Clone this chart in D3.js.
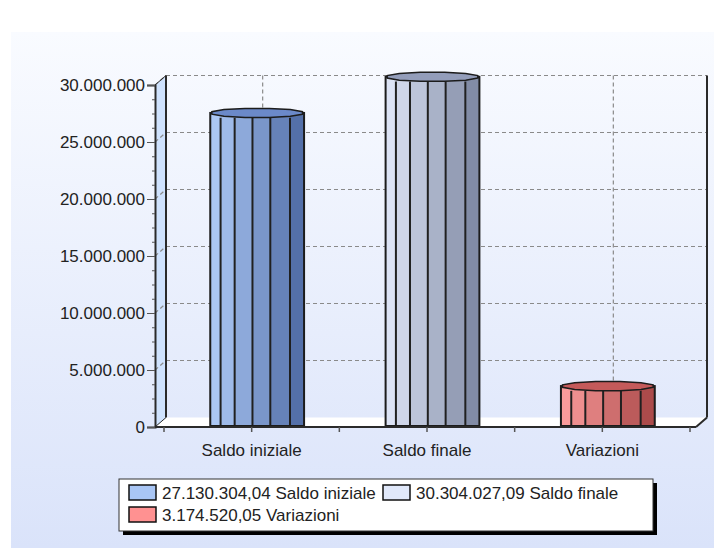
<!DOCTYPE html>
<html>
<head>
<meta charset="utf-8">
<script src="https://cdn.jsdelivr.net/npm/d3@7"></script>
<style>
  html, body { margin: 0; padding: 0; background: #ffffff; }
  svg { display: block; }
  text { font-family: "Liberation Sans", Arial, sans-serif; }
</style>
</head>
<body>
<svg id="chart" width="714" height="548"></svg>
<script>
// Data
const categories = ["Saldo iniziale", "Saldo finale", "Variazioni"];
const values = [27130304.04, 30304027.09, 3174520.05];
const yTicks = [0, 5000000, 10000000, 15000000, 20000000, 25000000, 30000000];
const yMax = 30000000;

// Styles
const palette = [
  { light: "#b0ccf9", dark: "#4d68a2", cap: "#6b89c9", swatch: "#a9c6f5" },
  { light: "#e2e9fa", dark: "#7a849f", cap: "#939dba", swatch: "#e0e8fa" },
  { light: "#ffa0a0", dark: "#a54444", cap: "#c45a5a", swatch: "#ff9191" }
];
const facetStops = [0, 0.11, 0.26, 0.45, 0.64, 0.85, 1];
const depth = { dx: 11, dy: -9.5 };
const fontSize = 17;

const it = d3.formatLocale({ decimal: ",", thousands: ".", grouping: [3], currency: ["€", ""] });
const fmtAxis = it.format(",.0f");
const fmtValue = it.format(",.2f");

const svg = d3.select("#chart");
const defs = svg.append("defs");

// Background panel
const bg = defs.append("linearGradient").attr("id", "bg").attr("x1", 0).attr("y1", 0).attr("x2", 0).attr("y2", 1);
bg.append("stop").attr("offset", "0%").attr("stop-color", "#f9fbff");
bg.append("stop").attr("offset", "100%").attr("stop-color", "#dae3fa");
svg.append("rect").attr("x", 0).attr("y", 0).attr("width", 714).attr("height", 548).attr("fill", "#ffffff");
svg.append("rect").attr("x", 11).attr("y", 32).attr("width", 703).attr("height", 516).attr("fill", "url(#bg)");

// Scales
const y = d3.scaleLinear().domain([0, yMax]).range([427, 85]);
const x = d3.scaleBand().domain(categories).range([164, 690]);
const left = 155, right = 696;
const y0 = y(0), yTop = y(yMax);
const { dx, dy } = depth;

// Walls and floor
svg.append("polygon")
  .attr("points", [[left, y0], [left, yTop], [left + dx, yTop + dy], [left + dx, y0 + dy]].join(" "))
  .attr("fill", "#cfe2fd");
svg.append("polygon")
  .attr("points", [[left, y0], [left + dx, y0 + dy], [right + dx, y0 + dy], [right, y0]].join(" "))
  .attr("fill", "#ffffff");

// Grid on the back wall and the left wall
const grid = svg.append("g").attr("stroke", "#8a8a8a").attr("stroke-width", 1.2).attr("stroke-dasharray", "4,3").attr("fill", "none");
grid.selectAll("line.h").data(yTicks.filter(d => d > 0)).join("line")
  .attr("x1", left + dx).attr("x2", right + dx)
  .attr("y1", d => y(d) + dy).attr("y2", d => y(d) + dy);
grid.selectAll("line.d").data(yTicks.filter(d => d > 0)).join("line")
  .attr("x1", left).attr("x2", left + dx)
  .attr("y1", d => y(d)).attr("y2", d => y(d) + dy);
grid.selectAll("line.v").data(categories).join("line")
  .attr("x1", d => x(d) + x.bandwidth() / 2 + dx).attr("x2", d => x(d) + x.bandwidth() / 2 + dx)
  .attr("y1", yTop + dy).attr("y2", y0 + dy);

// Frame lines
const frame = svg.append("g").attr("stroke", "#2a2a2a").attr("stroke-width", 2).attr("fill", "none");
frame.append("line").attr("x1", left + dx).attr("x2", left + dx).attr("y1", yTop + dy).attr("y2", y0 + dy);
frame.append("line").attr("x1", right + dx).attr("x2", right + dx).attr("y1", yTop + dy).attr("y2", y0 + dy);
frame.append("line").attr("x1", right + dx).attr("x2", right).attr("y1", y0 + dy).attr("y2", y0);
frame.append("line").attr("x1", left).attr("x2", left + dx).attr("y1", yTop).attr("y2", yTop + dy).attr("stroke-width", 1);
frame.append("line").attr("x1", left).attr("x2", left + dx).attr("y1", y0).attr("y2", y0 + dy).attr("stroke-width", 1);

// Cylinders
const barW = x.bandwidth() * 0.535;
const capH = 4.75;
const bars = svg.append("g").selectAll("g.bar").data(categories.map((c, i) => ({ c, v: values[i], p: palette[i] }))).join("g");

bars.each(function (d) {
  const g = d3.select(this);
  const x0 = x(d.c) + x.bandwidth() / 2 + dx / 2 - barW / 2;
  const top = y(d.v);
  const shade = d3.interpolateRgb(d.p.light, d.p.dark);
  for (let j = 0; j < facetStops.length - 1; j++) {
    const a = facetStops[j], b = facetStops[j + 1];
    g.append("rect")
      .attr("x", x0 + a * barW).attr("y", top - capH)
      .attr("width", (b - a) * barW + 0.5).attr("height", y0 - top + capH - 1)
      .attr("fill", shade((a + b) / 2));
  }
  g.selectAll("line.f").data(facetStops.slice(1, -1)).join("line")
    .attr("x1", t => x0 + t * barW).attr("x2", t => x0 + t * barW)
    .attr("y1", top).attr("y2", y0 - 1)
    .attr("stroke", "#202020").attr("stroke-width", 2);
  g.append("rect")
    .attr("x", x0).attr("y", top - capH).attr("width", barW).attr("height", y0 - top + capH - 1)
    .attr("fill", "none").attr("stroke", "#1c1c1c").attr("stroke-width", 2);
  // top cap
  const cx = x0 + barW / 2, cy = top - capH;
  const pts = d3.range(12).map(k => {
    const ang = (k + 0.5) * Math.PI * 2 / 12;
    return [cx + Math.cos(ang) * barW / 2, cy + Math.sin(ang) * capH];
  });
  g.append("polygon").attr("points", pts.join(" "))
    .attr("fill", d.p.cap).attr("stroke", "#1c1c1c").attr("stroke-width", 1.5);
});

// Front floor edge
svg.append("line").attr("x1", left).attr("x2", right).attr("y1", y0).attr("y2", y0)
  .attr("stroke", "#2a2a2a").attr("stroke-width", 2);

// Y axis
const yAxis = d3.axisLeft(y).tickValues(yTicks).tickFormat(d => fmtAxis(d)).tickSize(8).tickPadding(2);
const ya = svg.append("g").attr("transform", `translate(${left},0)`).call(yAxis);
ya.select(".domain").attr("stroke", "#2a2a2a").attr("stroke-width", 2);
ya.selectAll(".tick line").attr("stroke", "#555");
ya.selectAll(".tick text").attr("font-size", fontSize).attr("fill", "#222")
  .attr("font-family", "'Liberation Sans', Arial, sans-serif");
const minor = d3.range(0, yMax + 1, 1250000).filter(v => v % 5000000 !== 0);
svg.append("g").attr("transform", `translate(${left},0)`)
  .call(d3.axisLeft(y).tickValues(minor).tickFormat("").tickSize(3))
  .call(g => g.select(".domain").remove())
  .selectAll(".tick line").attr("stroke", "#555");

// X axis
const xa = svg.append("g").attr("transform", `translate(0,${y0})`)
  .call(d3.axisBottom(x).tickSize(0).tickPadding(17));
xa.select(".domain").remove();
xa.selectAll(".tick text").attr("font-size", fontSize).attr("fill", "#222")
  .attr("font-family", "'Liberation Sans', Arial, sans-serif");
const xTickPos = x.domain().flatMap(c => [x(c), x(c) + x.bandwidth() / 2]).concat([x.range()[1]]);
svg.append("g").selectAll("line").data(xTickPos).join("line")
  .attr("x1", d => d).attr("x2", d => d).attr("y1", y0).attr("y2", y0 + 5)
  .attr("stroke", "#555").attr("stroke-width", 1.5);

// Legend
const lg = svg.append("g").attr("transform", "translate(119,479)");
lg.append("rect").attr("x", 4).attr("y", 4).attr("width", 534).attr("height", 52).attr("fill", "#000");
lg.append("rect").attr("x", 0).attr("y", 0).attr("width", 534).attr("height", 52)
  .attr("fill", "#ffffff").attr("stroke", "#333").attr("stroke-width", 1);
const legendPos = [[10, 6], [264, 6], [10, 28]];
const items = lg.selectAll("g.item").data(categories.map((c, i) => ({ c, v: values[i], p: palette[i], pos: legendPos[i] })))
  .join("g").attr("transform", d => `translate(${d.pos[0]},${d.pos[1]})`);
items.append("rect").attr("x", 0).attr("y", 0).attr("width", 27).attr("height", 15)
  .attr("fill", d => d.p.swatch).attr("stroke", "#111").attr("stroke-width", 1.5);
items.append("text").attr("x", 33).attr("y", 13.5).attr("font-size", fontSize).attr("fill", "#222")
  .text(d => `${fmtValue(d.v)} ${d.c}`);
</script>
</body>
</html>
